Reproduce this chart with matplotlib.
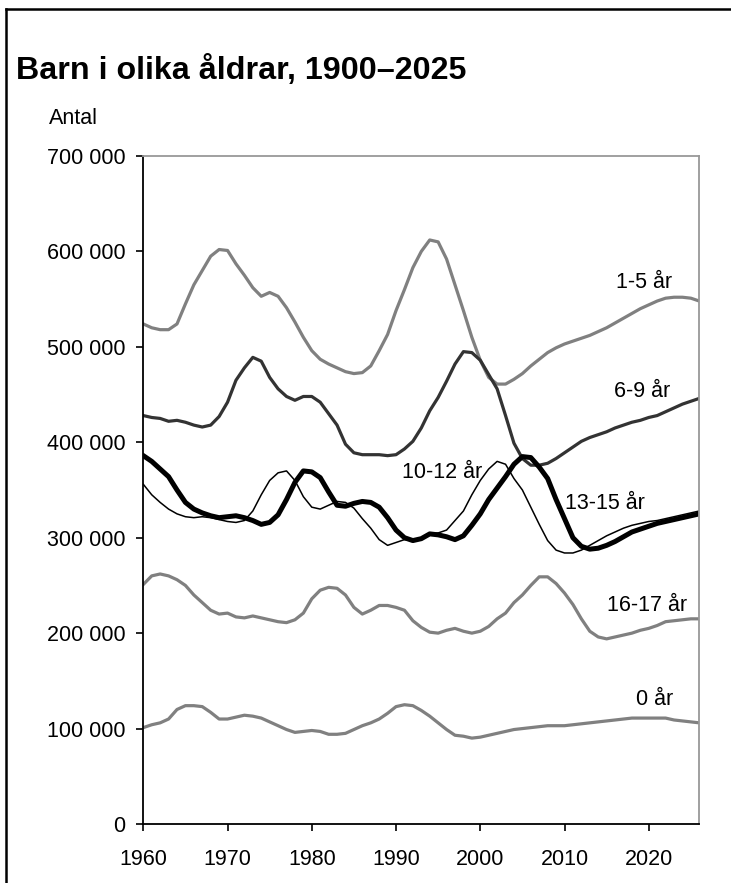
import matplotlib
matplotlib.use("Agg")
import matplotlib.pyplot as plt
from matplotlib.ticker import FuncFormatter
from matplotlib.lines import Line2D

plt.rcParams['font.family'] = ['Liberation Sans', 'DejaVu Sans']

years = list(range(1960, 2027))

age_0 = [101, 104, 106, 110, 120, 124, 124, 123, 117, 110,
         110, 112, 114, 113, 111, 107, 103, 99, 96, 97,
         98, 97, 94, 94, 95, 99, 103, 106, 110, 116,
         123, 125, 124, 119, 113, 106, 99, 93, 92, 90,
         91, 93, 95, 97, 99, 100, 101, 102, 103, 103,
         103, 104, 105, 106, 107, 108, 109, 110, 111, 111,
         111, 111, 111, 109, 108, 107, 106]

age_1_5 = [524, 520, 518, 518, 524, 545, 565, 580, 595, 602,
           601, 587, 575, 562, 553, 557, 553, 541, 526, 510,
           496, 487, 482, 478, 474, 472, 473, 480, 496, 513,
           538, 560, 583, 600, 612, 610, 592, 565, 538, 510,
           486, 468, 461, 461, 466, 472, 480, 487, 494, 499,
           503, 506, 509, 512, 516, 520, 525, 530, 535, 540,
           544, 548, 551, 552, 552, 551, 548]

age_6_9 = [428, 426, 425, 422, 423, 421, 418, 416, 418, 427,
           442, 465, 478, 489, 485, 468, 456, 448, 444, 448,
           448, 442, 430, 418, 398, 389, 387, 387, 387, 386,
           387, 393, 401, 415, 433, 447, 464, 482, 495, 494,
           486, 471, 456, 428, 399, 383, 376, 376, 378, 383,
           389, 395, 401, 405, 408, 411, 415, 418, 421, 423,
           426, 428, 432, 436, 440, 443, 446]

age_10_12 = [356, 345, 337, 330, 325, 322, 321, 322, 321, 319,
             317, 316, 318, 328, 345, 360, 368, 370, 360, 343,
             332, 330, 334, 338, 337, 331, 320, 310, 298, 292,
             295, 298, 297, 300, 304, 305, 308, 318, 328, 345,
             360, 372, 380, 377, 362, 350, 332, 314, 297, 287,
             284, 284, 287, 292, 297, 302, 306, 310, 313, 315,
             317, 318, 320, 322, 324, 326, 328]

age_13_15 = [386, 380, 372, 364, 350, 337, 330, 326, 323, 321,
             322, 323, 321, 318, 314, 316, 324, 340, 358, 370,
             369, 363, 348, 334, 333, 336, 338, 337, 332, 321,
             308, 300, 297, 299, 304, 303, 301, 298, 302, 313,
             325, 340, 352, 364, 377, 385, 384, 374, 362, 340,
             320, 300, 291, 288, 289, 292, 296, 301, 306, 309,
             312, 315, 317, 319, 321, 323, 325]

age_16_17 = [251, 260, 262, 260, 256, 250, 240, 232, 224, 220,
             221, 217, 216, 218, 216, 214, 212, 211, 214, 221,
             236, 245, 248, 247, 240, 227, 220, 224, 229, 229,
             227, 224, 213, 206, 201, 200, 203, 205, 202, 200,
             202, 207, 215, 221, 232, 240, 250, 259, 259, 252,
             242, 230, 215, 202, 196, 194, 196, 198, 200, 203,
             205, 208, 212, 213, 214, 215, 215]

series_labels = ["0 år", "16-17 år", "1-5 år", "6-9 år", "10-12 år", "13-15 år"]
series_values = [age_0, age_16_17, age_1_5, age_6_9, age_10_12, age_13_15]
series_colors = ["#808080", "#808080", "#808080", "#333333", "#000000", "#000000"]
series_widths = [2.3, 2.3, 2.3, 2.3, 1.1, 3.6]
label_pos = [(2020.7, 130000), (2019.8, 229000), (2019.4, 567000),
             (2019.2, 453000), (1995.5, 368000), (2014.8, 336000)]

W, H = 731, 883
fig = plt.figure(figsize=(W / 100, H / 100), dpi=100)
ax = fig.add_axes([143.3 / W, 1 - 824 / H, (699.3 - 143.3) / W, (824 - 156) / H])

for lab, vals, col, lw in zip(series_labels, series_values, series_colors, series_widths):
    ax.plot(years, [v * 1000 for v in vals], color=col, lw=lw, solid_joinstyle='round')

for lab, (lx, ly) in zip(series_labels, label_pos):
    ax.text(lx, ly, lab, ha='center', va='center', fontsize=15.5, color='black')

ax.set_xlim(1960, 2026)
ax.set_ylim(0, 700000)
ax.set_xticks(range(1960, 2021, 10))
ax.set_yticks(range(0, 700001, 100000))
ax.yaxis.set_major_formatter(FuncFormatter(lambda v, p: f"{int(v):,}".replace(",", " ")))
ax.tick_params(axis='both', labelsize=15.5, direction='out', length=5, width=1.2, color='black')
ax.tick_params(axis='y', pad=8)
ax.tick_params(axis='x', pad=13)

for s in ['left', 'bottom']:
    ax.spines[s].set_color('black')
    ax.spines[s].set_linewidth(1.3)
for s in ['top', 'right']:
    ax.spines[s].set_color('#999999')
    ax.spines[s].set_linewidth(1.3)

fig.text(16 / W, 1 - 71 / H, "Barn i olika åldrar, 1900–2025", fontsize=23.2,
         fontweight='bold', ha='left', va='center')
fig.text(49 / W, 1 - 119 / H, "Antal", fontsize=15.5, ha='left', va='center')

# figure frame (left and top)
fig.add_artist(Line2D([5.5 / W, 5.5 / W], [0, 1 - 8.5 / H], transform=fig.transFigure,
                      color='black', lw=1.8))
fig.add_artist(Line2D([5.5 / W, 1], [1 - 8.5 / H, 1 - 8.5 / H], transform=fig.transFigure,
                      color='black', lw=1.8))

fig.savefig("out.png", dpi=100)
